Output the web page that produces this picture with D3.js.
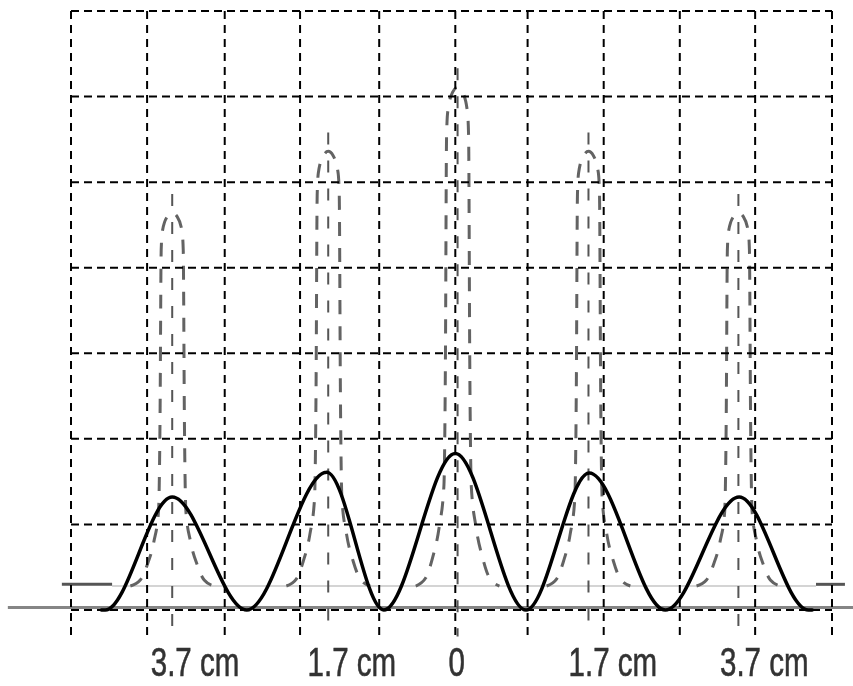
<!DOCTYPE html>
<head>
  <meta charset="utf-8">
  <title>fringes</title>
</head>
<style>
body { margin: 0; background: #fff; }
.grid { stroke: #000; stroke-width: 2; fill: none; }
.fringe { stroke: #636363; stroke-width: 3; fill: none; stroke-dasharray: 14 12; }
.axis-label { font-family: "Liberation Sans", Arial, sans-serif; font-size: 41px; fill: #333; stroke: #333; stroke-width: 0.6; }
</style>
<svg width="853" height="686"></svg>
<script src="https://d3js.org/d3.v7.min.js"></script>
<script>
// grid columns (cm) and rows
var gridX = [-5, -4, -2.98, -1.99, -0.95, 0.05, 1, 2, 3, 3.99, 5];
var gridY = [0, 1, 2, 3, 4, 5, 6, 7];

// narrow (dashed) fringes
var fringeX = [-3.67, -1.62, 0.08, 1.80, 3.77];
var fringeTop = [4.64, 5.36, 6.11, 5.36, 4.64];
var fringeBase = 0.28;
// shape of one narrow fringe: offset (cm) and fraction of its height
var profileDx = [-0.55, -0.42, -0.33, -0.24, -0.18, -0.16, -0.145, -0.13, -0.065, 0, 0.065, 0.13, 0.145, 0.16, 0.18, 0.24, 0.33, 0.42, 0.55];
var profileH  = [0, 0.016, 0.056, 0.12, 0.2, 0.45, 0.9, 0.95, 0.99, 1, 0.99, 0.95, 0.9, 0.45, 0.2, 0.12, 0.056, 0.016, 0];

// broad (solid) curve: minima and maxima
var solidX = [-4.6, -4.55, -3.67, -2.69, -1.64, -0.89, 0.05, 0.98, 1.81, 2.81, 3.78, 4.69, 4.74];
var solidY = [0, 0, 1.32, 0, 1.61, 0, 1.83, 0, 1.60, 0, 1.32, 0, 0];

// tick labels under the axis
var labels = ["3.7 cm", "1.7 cm", "0", "1.7 cm", "3.7 cm"];
var labelX = [-3.37, -1.31, 0.07, 2.12, 4.11];

var svg = d3.select("svg"),
    margin = { top: 11, bottom: 76, left: 71, right: 21 },
    width = +svg.attr("width"),
    height = +svg.attr("height");

var x = d3.scaleLinear().domain([-5, 5]).range([margin.left, width - margin.right]);
var y = d3.scaleLinear().domain([0, 7]).range([height - margin.bottom, margin.top]);

svg.append("rect").attr("width", width).attr("height", height).attr("fill", "#fff");

var defs = svg.append("defs");
defs.append("filter").attr("id", "scan")
  .append("feGaussianBlur").attr("stdDeviation", 0.7);

var scan = svg.append("g").attr("filter", "url(#scan)");

// scanned axis line
scan.append("line")
    .attr("x1", x(-5.83)).attr("x2", x(5.3))
    .attr("y1", y(0.03)).attr("y2", y(0.03))
    .attr("stroke", "#858585").attr("stroke-width", 3);

// faint baseline of the narrow fringes
scan.append("line")
    .attr("x1", x(-4.46)).attr("x2", x(4.79))
    .attr("y1", y(fringeBase)).attr("y2", y(fringeBase))
    .attr("stroke", "#d4d4d4").attr("stroke-width", 2);
scan.selectAll(".stub")
  .data([[-5.12, -4.46], [4.79, 5.17]])
  .enter().append("line")
    .attr("class", "stub")
    .attr("x1", function(d) { return x(d[0]); })
    .attr("x2", function(d) { return x(d[1]); })
    .attr("y1", y(fringeBase + 0.02)).attr("y2", y(fringeBase + 0.02))
    .attr("stroke", "#555").attr("stroke-width", 3);

// centre lines of the fringes
scan.selectAll(".centre")
  .data(fringeX)
  .enter().append("line")
    .attr("class", "centre")
    .attr("x1", function(d) { return x(d); })
    .attr("x2", function(d) { return x(d); })
    .attr("y1", function(d, i) { return y(fringeTop[i] + 0.22); })
    .attr("y2", y(-0.31))
    .attr("stroke", "#555").attr("stroke-width", 2)
    .attr("stroke-dasharray", "12 16");

var fringeLine = d3.line()
    .x(function(d) { return x(d[0]); })
    .y(function(d) { return y(d[1]); })
    .curve(d3.curveMonotoneX);

scan.selectAll(".fringe")
  .data(fringeX)
  .enter().append("path")
    .attr("class", "fringe")
    .attr("d", function(c, i) {
      var h = fringeTop[i] - fringeBase;
      return fringeLine(profileDx.map(function(dx, k) {
        return [c + dx, fringeBase + h * profileH[k]];
      }));
    });

// dashed grid
svg.selectAll(".vgrid")
  .data(gridX)
  .enter().append("line")
    .attr("class", "grid vgrid")
    .attr("x1", function(d) { return x(d); })
    .attr("x2", function(d) { return x(d); })
    .attr("y1", y(7)).attr("y2", y(-0.32))
    .attr("stroke-dasharray", "8 6");

svg.selectAll(".hgrid")
  .data(gridY)
  .enter().append("line")
    .attr("class", "grid hgrid")
    .attr("x1", x(-5)).attr("x2", x(5))
    .attr("y1", function(d) { return y(d); })
    .attr("y2", function(d) { return y(d); })
    .attr("stroke-dasharray", "8 5");

// broad curve
var solidLine = d3.line()
    .x(function(d) { return x(d); })
    .y(function(d, i) { return y(solidY[i]); })
    .curve(d3.curveMonotoneX);

svg.append("path")
    .attr("d", solidLine(solidX))
    .attr("fill", "none")
    .attr("stroke", "#000")
    .attr("stroke-width", 3.5)
    .attr("stroke-linecap", "round");

// labels
scan.selectAll(".axis-label")
  .data(labels)
  .enter().append("text")
    .attr("class", "axis-label")
    .attr("text-anchor", "middle")
    .attr("transform", function(d, i) {
      return "translate(" + x(labelX[i]) + "," + (height - 10) + ") scale(0.72,1)";
    })
    .text(function(d) { return d; });
</script>
